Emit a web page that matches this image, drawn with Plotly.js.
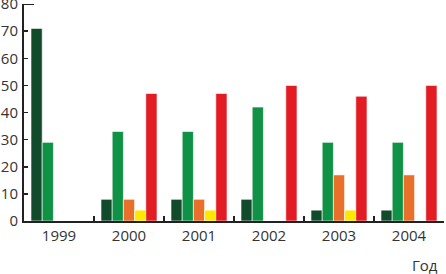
<!DOCTYPE html>
<html><head><meta charset="utf-8">
<script src="https://cdn.plot.ly/plotly-3.0.1.min.js"></script>
<style>html,body{margin:0;padding:0;background:#fff}#chart{width:446px;height:274px}</style>
</head><body><div id="chart"></div>
<script>
var years = ['1999','2000','2001','2002','2003','2004'];
var seriesA = [71, 8, 8, 8, 4, 4];     // dark green
var seriesB = [29, 33, 33, 42, 29, 29]; // green
var seriesC = [0, 8, 8, 0, 17, 17];    // orange
var seriesD = [0, 4, 4, 0, 4, 0];      // yellow
var seriesE = [0, 47, 47, 50, 46, 50]; // red
var yTicks = [0,10,20,30,40,50,60,70,80];
var colors = ['#124a2c','#0f9245','#e8702a','#ffe800','#e31b23'];
var all = [seriesA, seriesB, seriesC, seriesD, seriesE];
var traces = all.map(function(v,i){
  return {type:'bar', x:years, y:v, marker:{color:colors[i], line:{color:'#ffffff', width:0.6}}, hoverinfo:'none'};
});
var layout = {
  width:446, height:274,
  margin:{l:24, r:2, t:4, b:53},
  paper_bgcolor:'#fff', plot_bgcolor:'#fff',
  showlegend:false, barmode:'group', bargap:0.2, bargroupgap:0,
  font:{family:'"Open Sans", "DejaVu Sans", sans-serif', size:15, color:'#333'},
  xaxis:{type:'category', showgrid:false, zeroline:false, showline:true, linecolor:'#222', linewidth:2,
         ticks:'inside', tickson:'boundaries', ticklen:5, tickwidth:2, tickcolor:'#222',
         tickfont:{size:15, color:'#333'}, range:[-0.5,5.5]},
  yaxis:{range:[0,80], tickvals:yTicks, showgrid:false, zeroline:false, showline:true, linecolor:'#222', linewidth:2,
         ticks:'inside', ticklen:4, tickwidth:1.5, tickcolor:'#222',
         tickfont:{size:15, color:'#333'}, ticklabelstandoff:1, ticklabeloverflow:'allow'},
  shapes:[{type:'line', xref:'paper', yref:'y', x0:0, x1:0.024, y0:80, y1:80, line:{color:'#222', width:2}}],
  annotations:[{text:'Год', xref:'paper', yref:'paper', x:0.99, y:0, yshift:-44, xanchor:'right', yanchor:'middle', showarrow:false, font:{size:15, color:'#333'}}]
};
Plotly.newPlot('chart', traces, layout, {staticPlot:true, displayModeBar:false});
</script></body></html>
